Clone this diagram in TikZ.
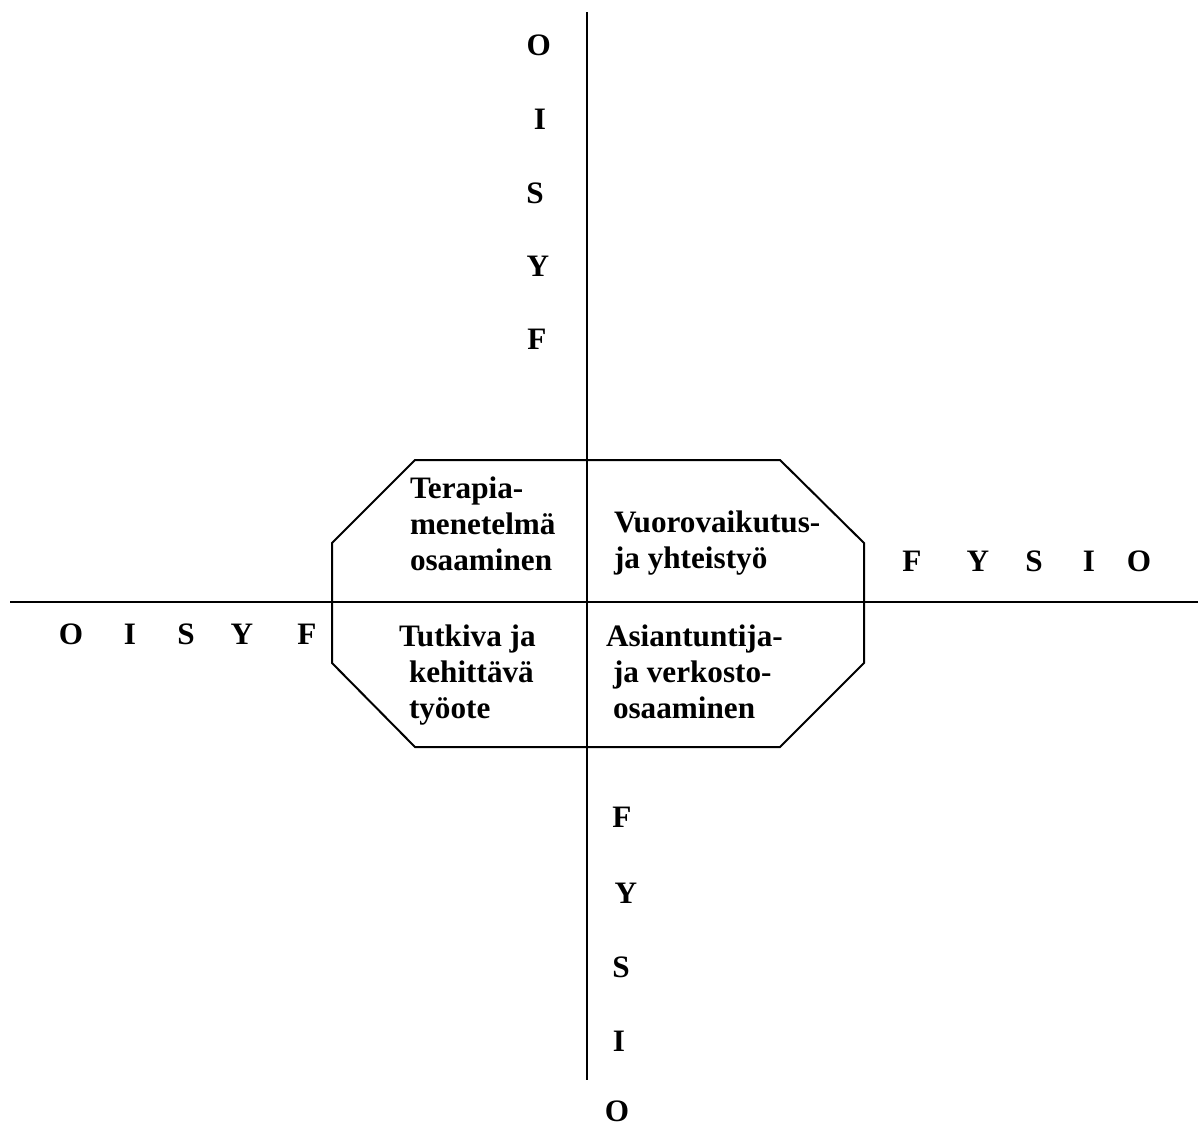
\documentclass[tikz,border=0pt]{standalone}
\usepackage{fontspec}
\setmainfont{Liberation Serif}
\begin{document}
\begin{tikzpicture}[x=0.5pt,y=-0.5pt,line width=1pt,
  lbl/.style={font=\fontsize{15.6}{18}\selectfont\bfseries,inner sep=0pt},
  blk/.style={lbl,align=left,anchor=base west}]
\useasboundingbox[fill=white] (0,0) rectangle (1198,1126);
% axes
\coordinate (vt) at (587,12);
\coordinate (vb) at (587,1080);
\coordinate (hl) at (10,602);
\coordinate (hr) at (1198,602);
\draw (vt) -- (vb);
\draw (hl) -- (hr);
% octagon
\draw (415,460) -- (780,460) -- (864,543) -- (864,663) -- (780,747)
  -- (415,747) -- (332,663) -- (332,543) -- cycle;
% quadrant texts (anchored at the baseline of the last line)
\node[blk] (tera) at (409,570) {Terapia-\\menetelmä\\osaaminen};
\node[blk] (vuoro) at (613,568) {Vuorovaikutus-\\ja yhteistyö};
\node[blk] (tutk) at (408,718) {\hspace*{-5pt}Tutkiva ja\\kehittävä\\työote};
\node[blk] (asia) at (612,718) {\hspace*{-3.5pt}Asiantuntija-\\ja verkosto-\\osaaminen};
% top column
\node[lbl] (t1) at (538.7,45) {O};
\node[lbl] (t2) at (540,119) {I};
\node[lbl] (t3) at (535,193) {S};
\node[lbl] (t4) at (538,266) {Y};
\node[lbl] (t5) at (537,339) {F};
% bottom column
\node[lbl] (b1) at (622,817) {F};
\node[lbl] (b2) at (626,893) {Y};
\node[lbl] (b3) at (621,967) {S};
\node[lbl] (b4) at (619,1041) {I};
\node[lbl] (b5) at (617,1111) {O};
% left row
\node[lbl] (l1) at (71,634) {O};
\node[lbl] (l2) at (130,634) {I};
\node[lbl] (l3) at (186,634) {S};
\node[lbl] (l4) at (242,634) {Y};
\node[lbl] (l5) at (307,634) {F};
% right row
\node[lbl] (r1) at (912,561) {F};
\node[lbl] (r2) at (978,561) {Y};
\node[lbl] (r3) at (1034,561) {S};
\node[lbl] (r4) at (1089,561) {I};
\node[lbl] (r5) at (1139,561) {O};
\end{tikzpicture}
\end{document}
